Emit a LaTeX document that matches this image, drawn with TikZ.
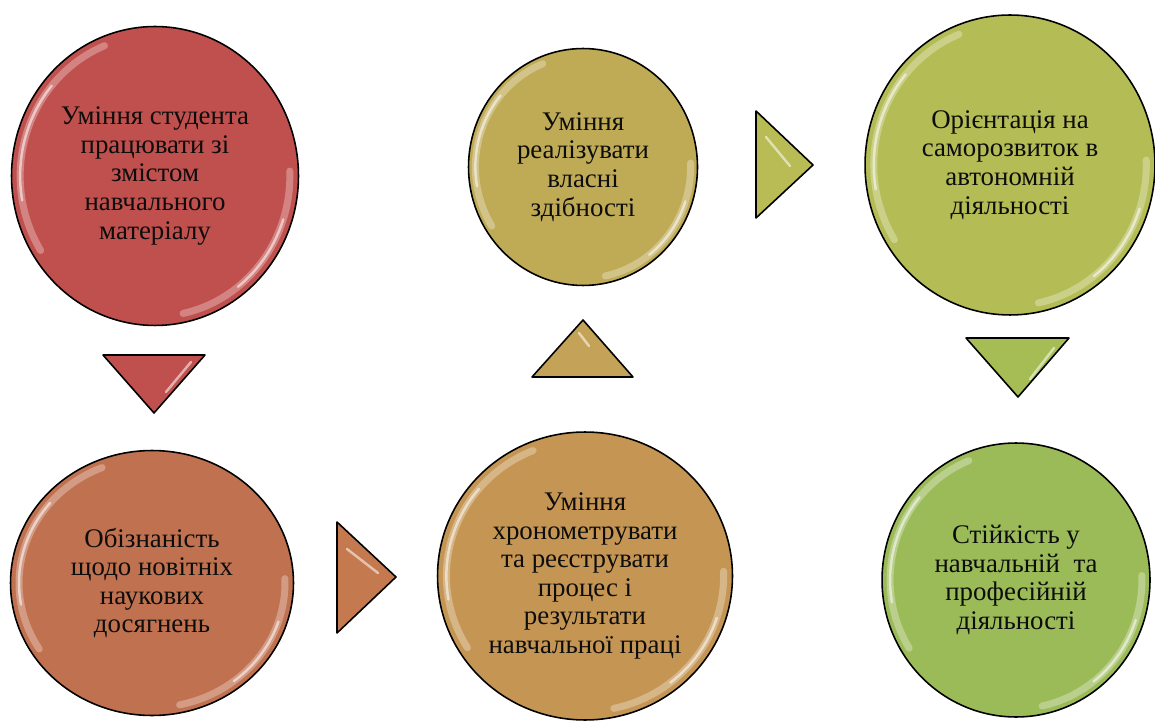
\documentclass[tikz,border=0pt]{standalone}
\usepackage{fontspec}
\setmainfont{Liberation Serif}
\usetikzlibrary{shapes.geometric,calc}

\definecolor{ballred}{HTML}{C0504D}
\definecolor{ballrust}{HTML}{C0714F}
\definecolor{balltan}{HTML}{C59554}
\definecolor{ballkhaki}{HTML}{BFAA56}
\definecolor{ballolive}{HTML}{B4BC55}
\definecolor{ballgreen}{HTML}{9BBB59}
\definecolor{trirust}{HTML}{C4794F}
\definecolor{tritan}{HTML}{C4A257}
\definecolor{triolive}{HTML}{B9BB54}
\definecolor{trigreen}{HTML}{A6BD55}

\begin{document}
\begin{tikzpicture}[
  x=0.02cm,y=-0.02cm,
  every node/.style={font=\fontsize{15.3}{16.3}\selectfont},
  gloss/.style={white,opacity=0.3,line width=4pt,line cap=round},
  shine/.style={white,opacity=0.55,line width=1.4pt,line cap=round},
  ball/.style={
    ellipse,draw=black,line width=0.9pt,fill=#1,
    text=black!95,align=center,inner sep=0pt,
    path picture={
      \path let \p1=($(path picture bounding box.north east)-(path picture bounding box.center)$) in
        coordinate (c) at (path picture bounding box.center)
        [draw,gloss]
        ($(c)+(112:{0.94*\x1} and {0.94*\y1})$)
        arc[start angle=112,end angle=212,x radius={0.94*\x1},y radius={0.94*\y1}]
        [draw,gloss]
        ($(c)+(-78:{0.94*\x1} and {0.94*\y1})$)
        arc[start angle=-78,end angle=2,x radius={0.94*\x1},y radius={0.94*\y1}];
      \path let \p1=($(path picture bounding box.north east)-(path picture bounding box.center)$) in
        coordinate (c) at (path picture bounding box.center)
        [draw,shine]
        ($(c)+(140:{0.94*\x1} and {0.94*\y1})$)
        arc[start angle=140,end angle=190,x radius={0.94*\x1},y radius={0.94*\y1}]
        [draw,shine]
        ($(c)+(-52:{0.94*\x1} and {0.94*\y1})$)
        arc[start angle=-52,end angle=-18,x radius={0.94*\x1},y radius={0.94*\y1}];
    }
  },
  arrowtri/.style={fill=#1,draw=black,line width=0.9pt,line join=round}
]

\useasboundingbox (0,0) rectangle (1155,722);

% ==================================================
% кола
% ==================================================
\node[ball=ballred,minimum width=5.74cm,minimum height=5.98cm]
  (zmist) at (155,176)
  {Уміння студента\\працювати зі\\змістом\\навчального\\матеріалу};

\node[ball=ballrust,minimum width=5.66cm,minimum height=5.30cm]
  (obiznanist) at (152,583)
  {Обізнаність\\щодо новітніх\\наукових\\досягнень};

\node[ball=balltan,minimum width=5.90cm,minimum height=5.76cm]
  (khronometr) at (585,576)
  {Уміння\\хронометрувати\\та реєструвати\\процес і\\результати\\навчальної праці};

\node[ball=ballkhaki,minimum width=4.58cm,minimum height=4.74cm]
  (zdibnosti) at (583,167)
  {Уміння\\реалізувати\\власні\\здібності};

\node[ball=ballolive,minimum width=5.80cm,minimum height=6.00cm]
  (oriientatsiia) at (1010,165)
  {Орієнтація на\\саморозвиток в\\автономній\\діяльності};

\node[ball=ballgreen,minimum width=5.36cm,minimum height=5.48cm]
  (stiikist) at (1016,580)
  {Стійкість у\\навчальній~ та\\професійній\\діяльності};

% ==================================================
% трикутники
% ==================================================
% вниз
\filldraw[arrowtri=ballred] (103,355) -- (205,355) -- (154,413) -- cycle;
\draw[shine] (191,362) -- (166,392);

% вправо
\filldraw[arrowtri=trirust] (337,522) -- (337,633) -- (396,577) -- cycle;
\draw[shine] (347,549) -- (378,573);

% вгору
\filldraw[arrowtri=tritan] (532,377) -- (633,377) -- (583,320) -- cycle;
\draw[shine] (579,333) -- (589,346);

% вправо
\filldraw[arrowtri=triolive] (756,111) -- (756,218) -- (813,165) -- cycle;
\draw[shine] (766,137) -- (790,166);

% вниз
\filldraw[arrowtri=trigreen] (966,338) -- (1069,338) -- (1018,397) -- cycle;
\draw[shine] (1054,348) -- (1030,379);

\end{tikzpicture}
\end{document}
